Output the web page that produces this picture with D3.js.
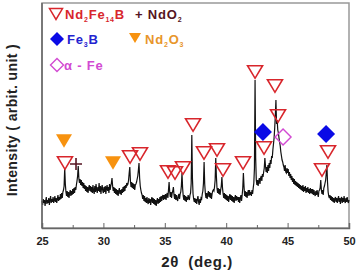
<!DOCTYPE html>
<html>
<head>
<script src="https://cdn.jsdelivr.net/npm/d3@7/dist/d3.min.js"></script>
<style>
  body { margin: 0; background: #fff; }
  text { font-family: "Liberation Sans", Arial, sans-serif; }
</style>
</head>
<body>
<script>
// XRD scan, 25 - 50 deg, step 0.05 (arbitrary intensity units)
const start = 25, step = 0.05;
const intensity = [
  27,23,29,25,28,22,27,31,24,28,25,30,23,28,32,25,29,26,31,25, // 25
  28,32,26,30,25,29,33,27,31,28,34,29,35,30,36,38,42,60,44,36, // 26
  32,37,31,36,30,35,38,32,37,33,39,34,40,35,41,38,43,47,52,62, // 27
  50,45,49,43,48,42,46,40,45,39,43,37,42,36,41,35,40,43,37,42, // 28
  36,41,35,43,37,34,42,36,44,38,35,41,37,45,36,42,34,40,43,37, // 29
  35,41,36,42,34,40,43,37,41,35,44,38,42,45,50,42,37,41,35,40, // 30
  34,39,33,38,32,37,40,34,38,33,39,35,41,36,42,37,43,40,45,43, // 31
  44,48,55,61,47,41,46,40,45,39,44,38,43,44,46,49,52,58,65,50, // 32
  42,38,35,33,29,33,27,32,26,30,25,31,26,24,30,25,29,23,28,31, // 33
  25,30,24,29,23,28,22,27,30,24,29,25,31,26,32,27,31,33,28,33, // 34
  29,34,28,33,35,30,38,46,36,31,36,30,35,37,41,33,29,34,28,33, // 35
  29,27,32,34,29,34,36,42,55,40,32,28,33,27,32,26,31,28,33,30, // 36
  28,33,35,45,93,50,34,29,26,30,25,29,24,29,32,26,23,29,25,30, // 37
  29,34,37,45,66,44,35,30,35,29,34,37,31,36,30,35,29,34,37,38, // 38
  37,41,48,70,52,40,35,40,34,39,33,38,42,51,40,34,30,35,29,34, // 39
  28,33,27,32,26,31,34,28,33,27,32,26,31,25,30,33,27,32,28,31, // 40
  26,31,25,30,33,27,33,40,55,42,32,37,31,36,30,35,38,32,38,33, // 41
  36,32,38,34,40,45,60,148,70,48,43,48,42,47,50,44,50,52,47,54, // 42
  51,56,60,70,62,56,61,55,63,57,65,60,68,64,72,70,78,84,90,100, // 43
  112,128,104,108,98,95,90,86,82,76,72,68,66,63,61,57,63,56,55,60, // 44
  55,59,52,56,50,54,48,52,46,50,44,49,43,47,42,46,41,45,40,44, // 45
  39,43,38,42,37,43,36,41,37,42,35,40,36,41,35,39,34,40,35,39, // 46
  34,39,33,38,34,32,37,33,38,34,31,37,38,40,48,38,34,38,33,40, // 47
  42,45,48,55,63,46,36,32,30,33,28,32,27,31,26,30,25,29,31,26, // 48
  30,25,29,32,26,30,24,29,31,25,30,26,32,27,25,30,26,31,27,25, // 49
  28
];

// phase markers [2theta, intensity]
const nd2fe14b = [[26.87,65],[32.17,71],[32.98,74],[35.26,56],[35.83,55],[36.48,60],
  [37.30,103],[38.19,75],[39.25,78],[39.74,58],[41.37,65],[42.35,156],[43.08,80],
  [43.97,142],[44.22,112],[47.80,58],[48.29,76]];
const ndo2 = [[27.77,64]];
const fe3b = [[42.99,96],[48.13,94]];
const nd2o3 = [[26.79,87],[30.78,65]];
const alphaFe = [[44.63,91]];

const xTicks = [25, 30, 35, 40, 45, 50];
const xMinor = [27.5, 32.5, 37.5, 42.5, 47.5];

const W = 356, H = 270;
const pl = 42, pr = 349, pt = 3, pb = 228;

const data = intensity.map((v, i) => [start + i * step, v]);

const x = d3.scaleLinear().domain([25, 50]).range([pl, pr]);
const y = d3.scaleLinear().domain([0, 225]).range([pb, pt]);

const svg = d3.select("body").append("svg")
  .attr("width", W).attr("height", H);

// frame
svg.append("rect")
  .attr("x", pl).attr("y", pt)
  .attr("width", pr - pl).attr("height", pb - pt)
  .attr("fill", "none").attr("stroke", "#999").attr("stroke-width", 1.5);

// spectrum
svg.append("path")
  .datum(data)
  .attr("fill", "none")
  .attr("stroke", "#111")
  .attr("stroke-width", 1.2)
  .attr("d", d3.line().x(d => x(d[0])).y(d => y(d[1])));

// bottom axis, ticks inside
const xAxis = d3.axisBottom(x).tickValues(xTicks).tickSize(-5).tickPadding(9);
const gx = svg.append("g").attr("transform", "translate(0," + pb + ")").call(xAxis);
gx.select(".domain").attr("stroke", "#666").attr("stroke-width", 1.5);
gx.selectAll(".tick line").attr("stroke", "#666");
gx.selectAll(".tick text").attr("font-size", 11).attr("font-weight", "bold")
  .attr("fill", "#222").attr("font-family", "Liberation Sans, Arial, sans-serif");
svg.append("g").attr("transform", "translate(0," + pb + ")")
  .call(d3.axisBottom(x).tickValues(xMinor).tickSize(-3).tickFormat(""))
  .call(g => g.select(".domain").remove())
  .selectAll("line").attr("stroke", "#666");

// left axis line
svg.append("line").attr("x1", pl).attr("x2", pl).attr("y1", pt).attr("y2", pb)
  .attr("stroke", "#666").attr("stroke-width", 1.5);

// marker shapes
const tri = s => `M${-s/2},${-s*0.42}L${s/2},${-s*0.42}L0,${s*0.42}Z`;
const dia = s => `M0,${-s/2}L${s/2},0L0,${s/2}L${-s/2},0Z`;
const RED = "#d8262c", BLUE = "#0a0ae6", ORANGE = "#f7920f", MAG = "#d24ad2", MAROON = "#551522";

function markers(arr, d, fill, stroke, sw) {
  svg.append("g").selectAll("path").data(arr).join("path")
    .attr("transform", p => `translate(${x(p[0])},${y(p[1])})`)
    .attr("d", d)
    .attr("fill", fill).attr("stroke", stroke).attr("stroke-width", sw);
}
markers(nd2fe14b, tri(15), "none", RED, 1.6);
markers(nd2o3, tri(16), ORANGE, "none", 0);
markers(fe3b, dia(18), BLUE, "none", 0);
markers(alphaFe, dia(16), "none", MAG, 1.4);
markers(ndo2, "M-6,0H6M0,-6V6", "none", MAROON, 1.6);

// legend
const lg = svg.append("g").attr("font-size", 13).attr("font-weight", "bold");
function label(xp, yp, color, parts) {
  const t = lg.append("text").attr("x", xp).attr("y", yp).attr("fill", color)
    .attr("letter-spacing", 0.8);
  parts.forEach(p => {
    if (p.sub) t.append("tspan").text(p.t).attr("font-size", 7).attr("dy", 3);
    else t.append("tspan").text(p.t).attr("dy", p.after ? -3 : 0);
  });
}
lg.append("path").attr("transform", "translate(56,14)").attr("d", tri(13))
  .attr("fill", "none").attr("stroke", RED).attr("stroke-width", 1.5);
label(65, 19, RED, [{t:"Nd"},{t:"2",sub:1},{t:"Fe",after:1},{t:"14",sub:1},{t:"B",after:1}]);
label(135, 19, MAROON, [{t:"+ NdO"},{t:"2",sub:1}]);
lg.append("path").attr("transform", "translate(57,39)").attr("d", dia(14)).attr("fill", BLUE);
label(67, 44, "#2323d0", [{t:"Fe"},{t:"3",sub:1},{t:"B",after:1}]);
lg.append("path").attr("transform", "translate(135,38)").attr("d", tri(12)).attr("fill", ORANGE);
label(145, 44, "#e8962a", [{t:"Nd"},{t:"2",sub:1},{t:"O",after:1},{t:"3",sub:1}]);
lg.append("path").attr("transform", "translate(57,65)").attr("d", dia(13))
  .attr("fill", "none").attr("stroke", MAG).attr("stroke-width", 1.4);
label(64, 70, MAG, [{t:"\u03b1 - Fe"}]);

// axis titles
svg.append("text").attr("x", 197).attr("y", 267).attr("text-anchor", "middle")
  .attr("font-size", 15).attr("font-weight", "bold").attr("fill", "#222")
  .attr("letter-spacing", 0.6).attr("xml:space", "preserve").text("2\u03b8  (deg.)");
svg.append("text").attr("transform", "translate(17,120) rotate(-90)")
  .attr("text-anchor", "middle").attr("font-size", 14).attr("font-weight", "bold")
  .attr("fill", "#222").attr("letter-spacing", 0.4).text("Intensity ( arbit. unit )");
</script>
</body>
</html>
